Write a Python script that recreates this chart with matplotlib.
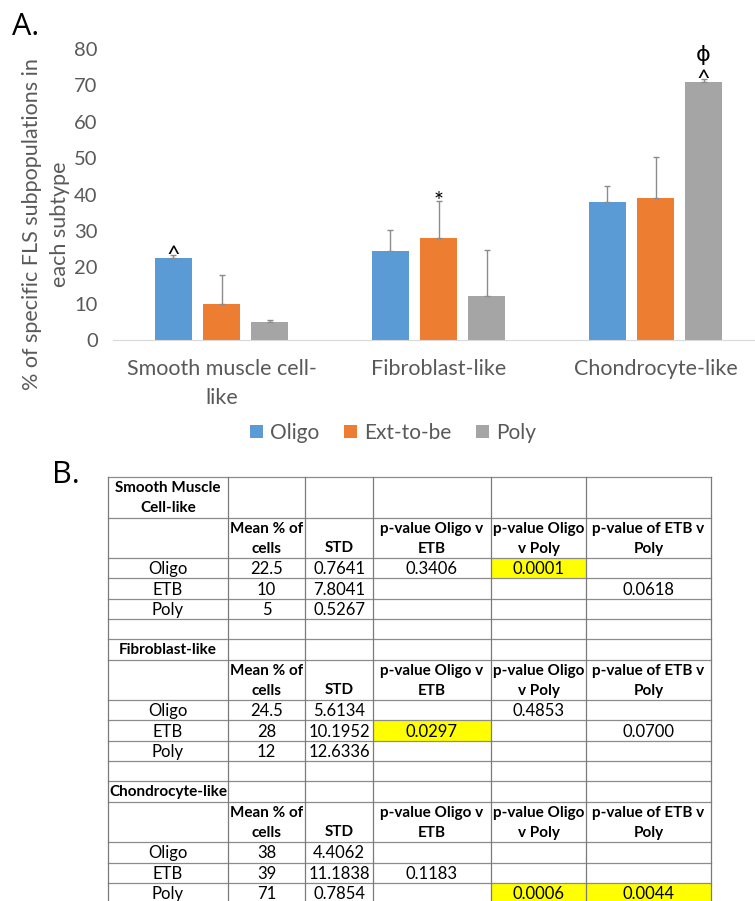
import numpy as np
import matplotlib.pyplot as plt

plt.rcParams['font.family'] = ['Lato', 'DejaVu Sans']

# chart data
categories = ["Smooth muscle cell-\nlike", "Fibroblast-like", "Chondrocyte-like"]
groups = ["Oligo", "Ext-to-be", "Poly"]
oligo_mean = [22.5, 24.5, 38]
etb_mean = [10, 28, 39]
poly_mean = [5, 12, 71]
oligo_std = [0.7641, 5.6134, 4.4062]
etb_std = [7.8041, 10.1952, 11.1838]
poly_std = [0.5267, 12.6336, 0.7854]
# significance marks: (category, group, symbols from bottom up)
marks = [(0, 0, ["^"]), (1, 1, ["*"]), (2, 2, ["^", "ϕ"])]

# table data
section_titles = ["Smooth Muscle\nCell-like", "Fibroblast-like", "Chondrocyte-like"]
header = ["", "Mean % of\ncells", "STD", "p-value Oligo v\nETB", "p-value Oligo\nv Poly", "p-value of ETB v\nPoly"]
row_names = ["Oligo", "ETB", "Poly"]
p_oligo_etb = [[0.3406, None, None], [None, 0.0297, None], [None, 0.1183, None]]
p_oligo_poly = [[0.0001, None, None], [0.4853, None, None], [None, None, 0.0006]]
p_etb_poly = [[None, 0.0618, None], [None, 0.0700, None], [None, None, 0.0044]]

colors = ["#5B9BD5", "#ED7D31", "#A5A5A5"]
txt_grey = "#595959"

fig = plt.figure(figsize=(7.55, 9.01), dpi=100)
W, H = 755, 901

# ---- A. bar chart
ax = fig.add_axes([113 / W, (H - 340) / H, 651 / W, 291 / H])
means = [oligo_mean, etb_mean, poly_mean]
stds = [oligo_std, etb_std, poly_std]
x = np.arange(len(categories))
step = 0.2212
for i in range(3):
    ax.bar(x + (i - 1) * step, means[i], width=0.175, color=colors[i],
           yerr=[np.zeros(3), stds[i]], capsize=2.5,
           error_kw=dict(ecolor="#8c8c8c", elinewidth=1, capthick=1),
           label=groups[i], zorder=2)

for c, g, syms in marks:
    top = means[g][c] + stds[g][c]
    for k, s in enumerate(syms):
        ax.annotate(s, (x[c] + (g - 1) * step, top), xytext=(0, -5 + 18 * k),
                    textcoords="offset points", ha="center", va="baseline",
                    fontsize=17 if s != "ϕ" else 16, color="black",
                    family=["DejaVu Sans"] if s == "ϕ" else None)

ax.set_xlim(-0.5, 2.5)
ax.set_ylim(0, 80)
ax.set_yticks(range(0, 81, 10))
for s in ["top", "right", "left"]:
    ax.spines[s].set_visible(False)
ax.spines["bottom"].set_color("#D9D9D9")
ax.tick_params(length=0, labelcolor=txt_grey)
ax.tick_params(axis="y", pad=11, labelsize=14.5)
ax.set_xticks(x, categories, linespacing=1.55)
ax.tick_params(axis="x", pad=14, labelsize=15.5)
ax.text(-0.103, 0.398, "% of specific FLS subpopulations in\neach subtype",
        transform=ax.transAxes, rotation=90, ha="center", va="center",
        fontsize=15.5, color=txt_grey, linespacing=1.55)

ax.legend(loc="center", bbox_to_anchor=(393 / W, (H - 433) / H),
          bbox_transform=fig.transFigure, ncol=3, frameon=False,
          fontsize=15, handlelength=0.6, handleheight=0.6,
          handletextpad=0.35, columnspacing=1.2, labelcolor=txt_grey)

# ---- B. table
tb = fig.add_axes([0, 0, 1, 1])
tb.set_xlim(0, W)
tb.set_ylim(H, 0)
tb.axis("off")

fig.text(12 / W, 1 - 35 / H, "A.", fontsize=22, color="black", family=["Open Sans"])
fig.text(52 / W, 1 - 483 / H, "B.", fontsize=22, color="black", family=["Open Sans"])

col_edges = [108, 228, 305, 373, 491, 586, 711]
unit = 20.29
y = 477.0

def cell_text(col, y0, y1, s, bold=False, va="center"):
    xc = (col_edges[col] + col_edges[col + 1]) / 2
    fs = 11 if bold else 12
    fw = "bold" if bold else "normal"
    if va == "bottom":
        tb.text(xc, y1 - 3, s, ha="center", va="bottom", fontsize=fs, fontweight=fw)
    else:
        tb.text(xc, (y0 + y1) / 2 + 1, s, ha="center", va="center", fontsize=fs,
                fontweight=fw, linespacing=1.55)

hlines = [y]
for si, title in enumerate(section_titles):
    # title row
    h = unit * (2 if "\n" in title else 1)
    cell_text(0, y, y + h, title, bold=True)
    y += h
    hlines.append(y)
    # header row
    h = unit * 2
    for ci, s in enumerate(header):
        if s:
            cell_text(ci, y, y + h, s, bold=True, va="bottom" if "\n" not in s else "center")
    y += h
    hlines.append(y)
    # data rows
    for ri, name in enumerate(row_names):
        vals = [name, f"{means[ri][si]:g}", f"{stds[ri][si]:.4f}",
                p_oligo_etb[si][ri], p_oligo_poly[si][ri], p_etb_poly[si][ri]]
        for ci, v in enumerate(vals):
            if v is None:
                continue
            if ci >= 3:
                if v < 0.05:
                    tb.fill_between([col_edges[ci], col_edges[ci + 1]], y, y + unit,
                                    color="#FFFF00", lw=0, zorder=0)
                v = f"{v:.4f}"
            cell_text(ci, y, y + unit, v)
        y += unit
        hlines.append(y)
    if si < len(section_titles) - 1:
        y += unit
        hlines.append(y)

for yy in hlines:
    tb.plot([col_edges[0], col_edges[-1]], [yy, yy], color="#8c8c8c", lw=0.9, zorder=1)
for xx in col_edges:
    tb.plot([xx, xx], [hlines[0], hlines[-1]], color="#7a7a7a", lw=0.9, zorder=1)

fig.savefig("out.png", dpi=100)
